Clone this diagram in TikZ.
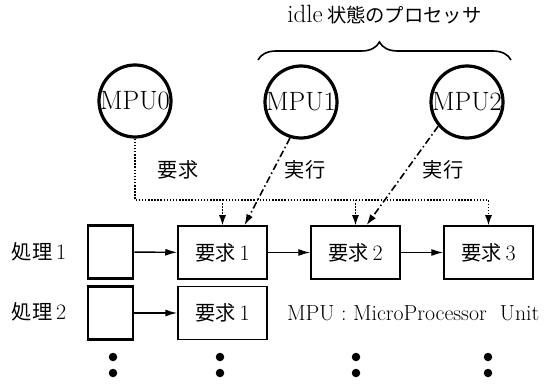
\documentclass[tikz,border=0pt]{standalone}
\usepackage{fontspec}
\newfontfamily\jp{Noto Sans CJK JP}[Scale=0.92]
\usetikzlibrary{arrows.meta,decorations.pathreplacing}
\begin{document}
\begin{tikzpicture}[x=1pt,y=-1pt,
 every node/.style={font=\fontsize{22}{24}\selectfont},
 mpu/.style={circle, draw, line width=3.2pt, minimum size=72pt, inner sep=0pt, font=\fontsize{26.5}{28}\selectfont},
 reqbox/.style={draw, line width=1.5pt, minimum width=89pt, minimum height=53pt, inner sep=0pt},
 emptybox/.style={draw, line width=2.6pt, minimum width=45pt, minimum height=53pt, inner sep=0pt},
 harrow/.style={line width=1.4pt, -{Latex[length=12pt,width=7pt]}},
 dotline/.style={line width=1.3pt, dash pattern=on 1.5pt off 1.6pt},
 dotarrow/.style={dotline, -{Latex[length=10pt,width=7pt]}},
 dasharrow/.style={line width=1.6pt, dash pattern=on 7pt off 3pt on 1.5pt off 3pt, -{Latex[length=11pt,width=7pt]}},
 lbl/.style={inner sep=0pt},
 blob/.style={circle, fill, minimum size=8.5pt, inner sep=0pt}
]
\useasboundingbox (0,0) rectangle (552,385);

% title and brace
\node[lbl, font=\fontsize{25}{28}\selectfont] (title) at (384.5,15) {idle\,{\jp\fontsize{21}{22}\selectfont 状態のプロセッサ}};
\coordinate (bl) at (258,60);
\coordinate (br) at (511,60);
\draw[decorate, decoration={brace, amplitude=18pt, aspect=0.48}, line width=1.6pt] (bl) -- (br);

% processors
\node[mpu] (m0) at (135,101) {MPU0};
\node[mpu] (m1) at (301,102) {MPU1};
\node[mpu] (m2) at (467,102) {MPU2};

% labels
\node[lbl] (l0) at (178,170) {\jp 要求};
\node[lbl] (l1) at (305,170) {\jp 実行};
\node[lbl] (l2) at (443,170) {\jp 実行};

% row 1
\node[lbl] (p1) at (39,252) {{\jp 処理}\,1};
\node[emptybox] (e1) at (110.5,252) {};
\node[reqbox] (r11) at (222.5,252.5) {{\jp 要求}\,1};
\node[reqbox] (r12) at (355.5,252.5) {{\jp 要求}\,2};
\node[reqbox] (r13) at (488.5,252.5) {{\jp 要求}\,3};

% row 2
\node[lbl] (p2) at (39,312) {{\jp 処理}\,2};
\node[emptybox] (e2) at (110.5,313) {};
\node[reqbox] (r21) at (222.5,313) {{\jp 要求}\,1};
\node[lbl, anchor=west] (note) at (287,313) {\fontsize{21.8}{24}\selectfont MPU : MicroProcessor\ \ Unit};

% dots
\node[blob] (d1a) at (113,357) {};
\node[blob] (d1b) at (113,373) {};
\node[blob] (d2a) at (220,357) {};
\node[blob] (d2b) at (220,373) {};
\node[blob] (d3a) at (356,357) {};
\node[blob] (d3b) at (356,373) {};
\node[blob] (d4a) at (488,357) {};
\node[blob] (d4b) at (488,373) {};

% horizontal arrows
\draw[harrow] (e1) -- (r11);
\draw[harrow] (r11) -- (r12);
\draw[harrow] (r12) -- (r13);
\draw[harrow] (e2) -- (r21);

% dotted request lines
\coordinate (jn) at (0,200);
\draw[dotarrow] (m0.south) |- (r13.north |- jn) -- (r13.north);
\draw[dotarrow] (r11.north |- jn) -- (r11.north);
\draw[dotarrow] (r12.north |- jn) -- (r12.north);

% dash-dot execute lines
\coordinate (t1) at ([xshift=22pt]r11.north);
\coordinate (t2) at ([xshift=11pt]r12.north);
\draw[dasharrow] (m1.253) -- (t1);
\draw[dasharrow] (m2.220) -- (t2);
\end{tikzpicture}
\end{document}
